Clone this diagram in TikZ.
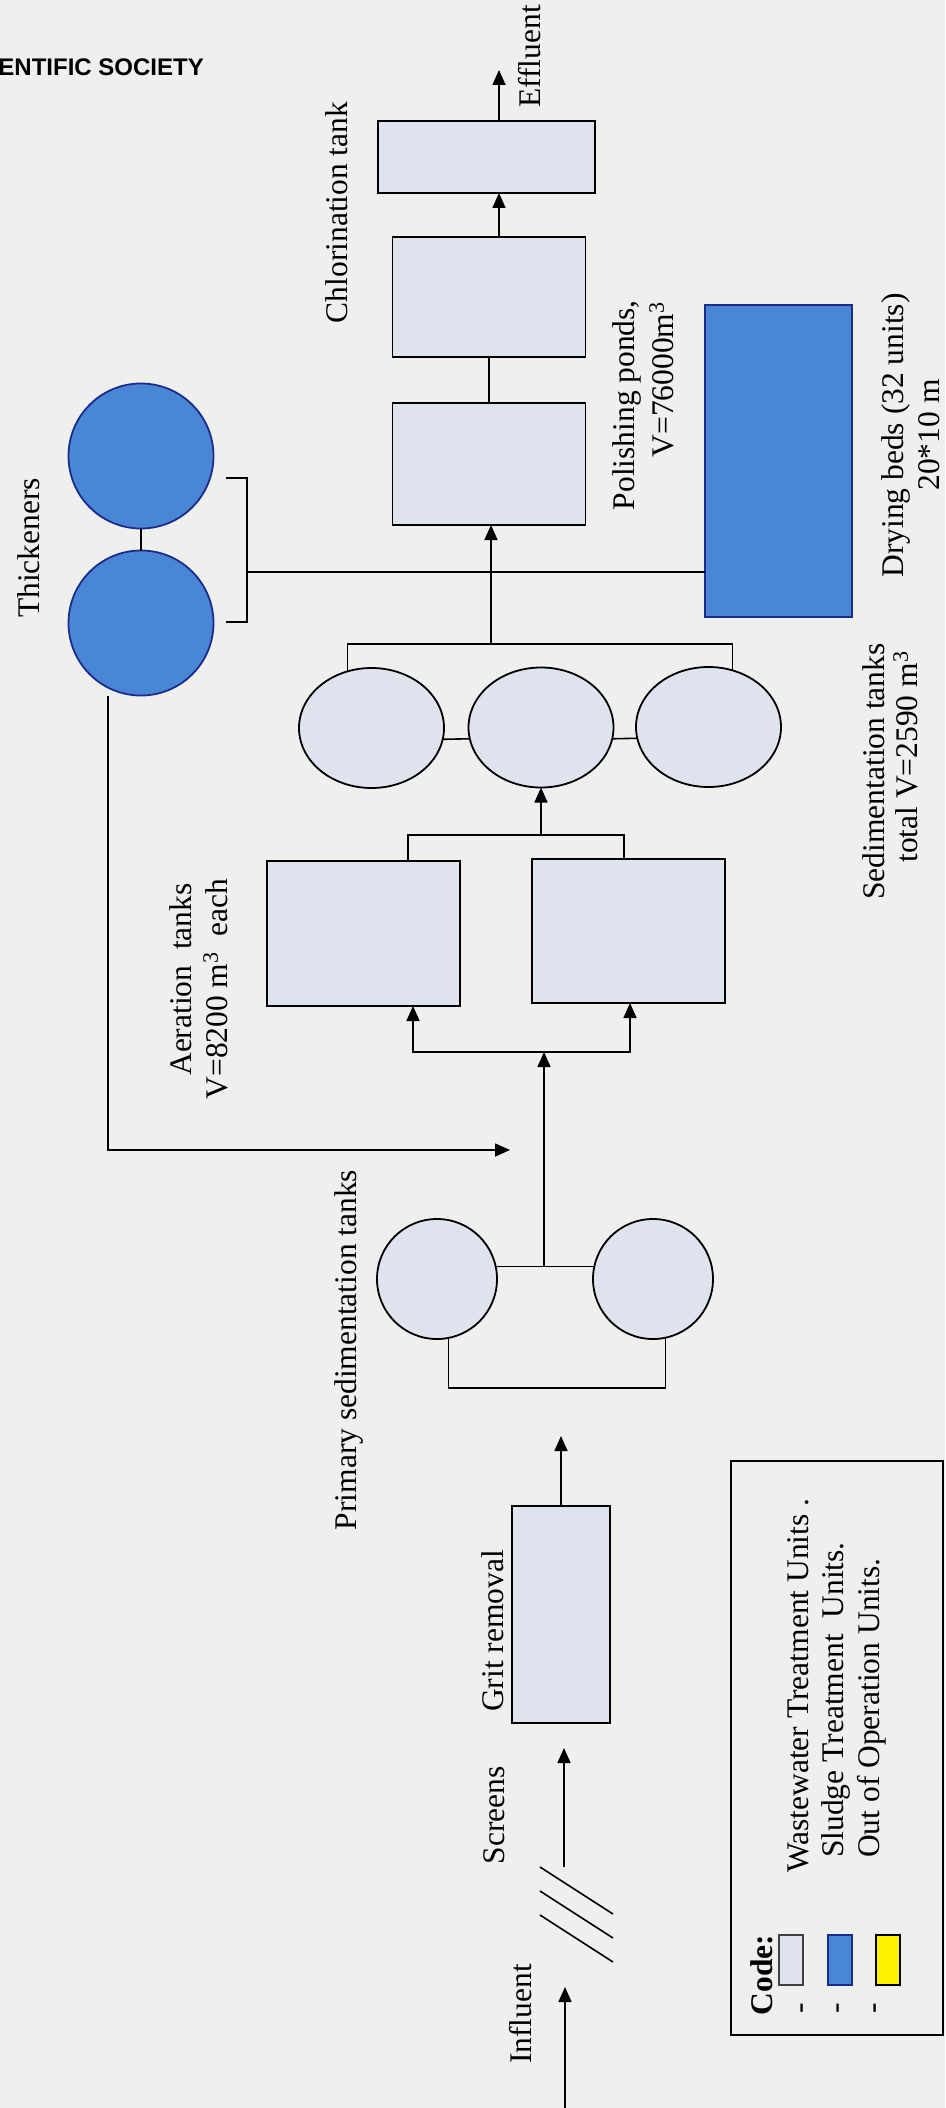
\documentclass[tikz,border=0pt]{standalone}
\usepackage{fontspec}
\setmainfont{Liberation Serif}
\newfontfamily\headfont{Liberation Sans}
\usetikzlibrary{arrows.meta,shapes.geometric}

\definecolor{paper}{HTML}{EFEFED}
\definecolor{wwfill}{HTML}{DEE3EE}
\definecolor{sludgefill}{HTML}{4A86D6}
\definecolor{sludgeline}{HTML}{1B2C8C}
\definecolor{offfill}{HTML}{FFF200}
\newcommand\lblsize{\fontsize{31.5}{36}\selectfont}

\begin{document}
\begin{tikzpicture}[x=1pt,y=-1pt,
  ww/.style={draw=black, line width=1.8pt, fill=wwfill, inner sep=0pt, outer sep=0pt},
  sl/.style={draw=sludgeline, line width=1.8pt, fill=sludgefill, inner sep=0pt, outer sep=0pt},
  wwbox/.style={ww, rectangle},
  wwell/.style={ww, ellipse},
  wwcirc/.style={ww, circle},
  pipe/.style={line width=1.6pt, draw=black},
  arr/.style={pipe, -{Triangle[length=15pt,width=13pt]}},
  lbl/.style={rotate=90, font=\lblsize, inner sep=0pt, anchor=base},
  swatch/.style={rectangle, line width=1.4pt, inner sep=0pt, minimum width=24pt, minimum height=50pt}]

% page
\fill[paper] (0,0) rectangle (945,2108);
\useasboundingbox (0,0) rectangle (945,2108);

\node[font=\headfont\bfseries\fontsize{24}{28}\selectfont, anchor=base east, inner sep=0pt] (hdr) at (204,76) {ENTIFIC SOCIETY};

% ---------- treatment units ----------
\node[wwbox, minimum width=217pt, minimum height=72pt]  (chlor) at (486.5,157) {};
\node[wwbox, minimum width=193pt, minimum height=120pt] (pol2)  at (489,297) {};
\node[wwbox, minimum width=193pt, minimum height=122pt] (pol1)  at (489,464) {};
\node[sl, rectangle, minimum width=147pt, minimum height=312pt] (dry) at (778.5,461) {};

\node[sl, circle, minimum size=145pt] (thk1) at (141,456) {};
\node[sl, circle, minimum size=145pt] (thk2) at (141,623) {};

\node[wwell, minimum width=145pt, minimum height=120pt] (sed1) at (371.5,728) {};
\node[wwell, minimum width=145pt, minimum height=120pt] (sed2) at (541,727.5) {};
\node[wwell, minimum width=145pt, minimum height=120pt] (sed3) at (708.5,727) {};

\node[wwbox, minimum width=193pt, minimum height=145pt] (aer1) at (363.5,933.5) {};
\node[wwbox, minimum width=193pt, minimum height=144pt] (aer2) at (628.5,931) {};

\node[wwcirc, minimum size=120pt] (pr1) at (437,1279) {};
\node[wwcirc, minimum size=120pt] (pr2) at (653,1279) {};

\node[wwbox, minimum width=98pt, minimum height=217pt] (grit) at (561,1614.5) {};

% ---------- connectors ----------
\coordinate (effl) at (499,70);
\draw[arr] (effl |- chlor.north) -- (effl);
\draw[arr] (effl |- pol2.north) -- (effl |- chlor.south);
\draw[pipe] (pol1.north) -- (pol2.south);

\coordinate (sedc) at (491,644);
\draw[pipe] (sed1.113) |- (sedc) -| (sed3.67);
\draw[arr] (sedc) -- (sedc |- pol1.south);
\draw[pipe] (sed1.351) -- (sed2.189);
\draw[pipe] (sed2.351) -- (sed3.189);

\coordinate (aerc) at (541,835);
\draw[pipe] ([xshift=44.5pt]aer1.north) |- (aerc) -| ([xshift=-4.5pt]aer2.north);
\draw[arr] (aerc) -- (aerc |- sed2.south);

\coordinate (dist) at (544,1052);
\draw[arr] (dist) -| ([xshift=49.5pt]aer1.south);
\draw[arr] (dist) -| ([xshift=1.5pt]aer2.south);

\draw[pipe] (pr1.12) -- (pr2.168);
\coordinate (prj) at (pr1.12 -| dist);
\draw[arr] (prj) -- (dist);
\coordinate (prb) at (557,1388);
\draw[pipe] (pr1.281) |- (prb) -| (pr2.282);

\coordinate (gritout) at (561,1436);
\draw[arr] (grit.north) -- (gritout);

\coordinate (scrA) at (564,1867);
\coordinate (scrB) at (564,1748);
\draw[arr] (scrA) -- (scrB);
\draw[pipe] (540,1867) -- (613,1914);
\draw[pipe] (540,1891) -- (613,1938);
\draw[pipe] (540,1915) -- (613,1962);

\coordinate (inA) at (565,2108);
\coordinate (inB) at (565,1987);
\draw[arr] (inA) -- (inB);

% sludge line
\draw[pipe] (thk1.south) -- (thk2.north);
\coordinate (retx) at (108,1150);
\coordinate (rete) at (510,1150);
\draw[arr] (thk2.south -| retx) -- (retx) -- (rete);
\draw[pipe] (226,478) -- (247,478) -- (247,622) -- (226,622);
\coordinate (brk) at (247,572);
\draw[pipe] (brk) -- (brk -| dry.west);

% ---------- labels ----------
\node[lbl] (lEff)  at (540,56.5)  {Effluent};
\node[lbl] (lChl)  at (347,212.5) {Chlorination tank};
\node[lbl] (lThk)  at (39,548)    {Thickeners};
\node[lbl, anchor=base east] (lPol1) at (634,300) {Polishing ponds,};
\node[lbl, anchor=base east] (lPol2) at (673,302) {V=76000m\textsuperscript{3}};
\node[lbl] (lDry1) at (903,435.5) {Drying beds (32 units)};
\node[lbl] (lDry2) at (939,435)   {20*10 m};
\node[lbl] (lSed1) at (884,771.5) {Sedimentation tanks};
\node[lbl] (lSed2) at (917,757)   {total V=2590 m\textsuperscript{3}};
\node[lbl] (lAer1) at (191,979.5) {Aeration\ \ tanks};
\node[lbl] (lAer2) at (227,989)   {V=8200 m\textsuperscript{3}\ \ each};
\node[lbl] (lPri)  at (356,1350)  {Primary sedimentation tanks};
\node[lbl] (lGrit) at (503,1631)  {Grit removal};
\node[lbl] (lScr)  at (504,1815)  {Screens};
\node[lbl] (lInf)  at (531,2014)  {Influent};

% ---------- legend ----------
\node[draw=black, line width=1.4pt, rectangle, inner sep=0pt, minimum width=212pt, minimum height=574pt] (legend) at (837,1748) {};
\node[lbl, font=\lblsize\bfseries] (code) at (772,1975) {Code:};
\node[swatch, draw=black!75, fill=wwfill]          (sw1) at (791,1960) {};
\node[swatch, draw=sludgeline, fill=sludgefill]    (sw2) at (840,1960) {};
\node[swatch, draw=black, fill=offfill]            (sw3) at (888,1960) {};
\node[lbl] (d1) at (809,2008) {-};
\node[lbl] (d2) at (845,2008) {-};
\node[lbl] (d3) at (882,2008) {-};
\node[lbl, anchor=base west] (t1) at (808,1873) {Wastewater Treatment Units .};
\node[lbl, anchor=base west] (t2) at (843,1858) {Sludge Treatment\ \ Units.};
\node[lbl, anchor=base west] (t3) at (879,1858) {Out of Operation Units.};
\end{tikzpicture}
\end{document}
